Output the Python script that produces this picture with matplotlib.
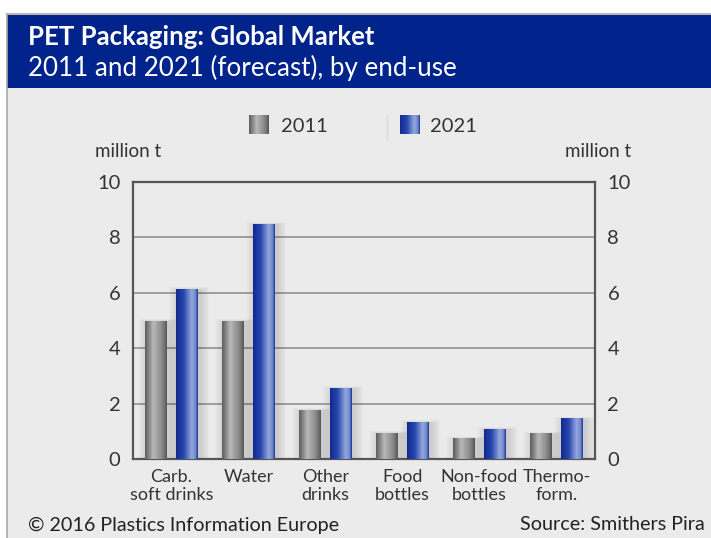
import matplotlib
matplotlib.use("Agg")
import matplotlib.pyplot as plt
import numpy as np
from matplotlib.patches import Rectangle
from matplotlib.colors import LinearSegmentedColormap

plt.rcParams['font.family'] = ['Lato', 'DejaVu Sans']

categories = ["Carb.\nsoft drinks", "Water", "Other\ndrinks", "Food\nbottles", "Non-food\nbottles", "Thermo-\nform."]
values_2011 = [5.0, 5.0, 1.78, 0.95, 0.76, 0.93]
values_2021 = [6.15, 8.5, 2.58, 1.35, 1.1, 1.47]
series_names = ["2011", "2021"]
yticks = [0, 2, 4, 6, 8, 10]

W, H = 711, 538
fig = plt.figure(figsize=(W / 100, H / 100), dpi=100)
fig.patch.set_facecolor("white")

def fx(x):
    return x / W

def fy(y):
    return 1 - y / H

# background + header in a full-figure axes at the bottom
bax = fig.add_axes([0, 0, 1, 1], zorder=-10)
bax.set_xlim(0, W)
bax.set_ylim(H, 0)
bax.axis("off")
bax.add_patch(Rectangle((7, 88), W - 7, H - 88, facecolor="#ebebeb", edgecolor="none"))
bax.add_patch(Rectangle((7, 15), W - 7, 73, facecolor="#00238c", edgecolor="none"))
bax.plot([7, 7], [14, H], color="#a8a8a8", lw=1.2)
bax.plot([7, W], [14, 14], color="#a8a8a8", lw=1.2)

fig.text(fx(28), fy(37), "PET Packaging: Global Market", color="white", fontsize=18.5, fontweight="bold",
         va="center", ha="left")
fig.text(fx(28), fy(68), "2011 and 2021 (forecast), by end-use", color="white", fontsize=18.7,
         va="center", ha="left")

ax = fig.add_axes([fx(133), fy(459), fx(595) - fx(133), fy(182) - fy(459)], zorder=1)
ax.set_facecolor("#ebebeb")
x = np.arange(len(categories))
bw = 0.285
off = 0.2

gray_cmap = LinearSegmentedColormap.from_list("g", [(0, "#5e5e5e"), (0.12, "#7a7a7a"), (0.38, "#b8b8b8"),
                                                   (0.75, "#8c8c8c"), (0.92, "#6c6c6c"), (1, "#555555")])
blue_cmap = LinearSegmentedColormap.from_list("b", [(0, "#13298f"), (0.35, "#2747ae"), (0.72, "#95a8dc"),
                                                   (0.9, "#7088cc"), (1, "#1d3496")])
grad = np.linspace(0, 1, 64).reshape(1, -1)

def draw_bars(xs, vals, cmap):
    bars = ax.bar(xs, vals, width=bw, facecolor="none", edgecolor="none", zorder=3)
    for b in bars:
        x0, w, h = b.get_x(), b.get_width(), b.get_height()
        n = 10
        for k in range(n):
            g = 0.012 * (k + 1)
            ax.add_patch(Rectangle((x0 + 0.03 - g, 0), w + 2 * g, max(h + 0.35 * g / 0.012 * 0.03 - 0.05, 0),
                                   facecolor="black", alpha=0.012, edgecolor="none", zorder=2))
        im = ax.imshow(grad, cmap=cmap, extent=[x0, x0 + w, 0, h], aspect="auto", zorder=3,
                       interpolation="bilinear")
        im.set_clip_path(b)
    return bars

draw_bars(x - off, values_2011, gray_cmap)
draw_bars(x + off, values_2021, blue_cmap)

ax.set_xlim(-0.5, len(categories) - 0.5)
ax.set_ylim(0, 10)
ax.set_yticks(yticks)
for yv in yticks[1:-1]:
    ax.axhline(yv, color="#999999", lw=1.3, zorder=1)
for s in ax.spines.values():
    s.set_color("#555555")
    s.set_linewidth(1.6)
ax.set_xticks(x)
ax.set_xticklabels(categories, fontsize=13, color="#333333", linespacing=1.15)
ax.tick_params(axis="both", length=0, labelsize=14.5, colors="#333333", pad=7)
ax.tick_params(axis="x", labelsize=13)
ax.tick_params(axis="y", pad=9)
ax2 = ax.twinx()
ax2.set_ylim(0, 10)
ax2.set_yticks(yticks)
ax2.tick_params(axis="y", length=0, labelsize=14.5, colors="#333333", pad=9)
for s in ax2.spines.values():
    s.set_visible(False)

fig.text(fx(128), fy(151), "million t", fontsize=13.5, color="#333333", ha="center", va="center")
fig.text(fx(598), fy(151), "million t", fontsize=13.5, color="#333333", ha="center", va="center")

# legend
for (x0, cmap, name, tx) in [(249, gray_cmap, series_names[0], 281), (400, blue_cmap, series_names[1], 430)]:
    bax.imshow(grad, cmap=cmap, extent=[x0, x0 + 20, 134, 115], aspect="auto", interpolation="bilinear",
               zorder=5)
    bax.text(tx, 126, name, fontsize=14.5, color="#333333", va="center", ha="left")
bax.plot([387, 387], [115, 140], color="#d8d8d8", lw=1)
bax.set_xlim(0, W)
bax.set_ylim(H, 0)

fig.text(fx(28), fy(525), "\u00a9 2016 Plastics Information Europe", fontsize=14.2, color="#222222",
         ha="left", va="center")
fig.text(fx(705), fy(525), "Source: Smithers Pira", fontsize=14.2, color="#222222",
         ha="right", va="center")

fig.savefig("out.png", dpi=100, facecolor=fig.get_facecolor())
